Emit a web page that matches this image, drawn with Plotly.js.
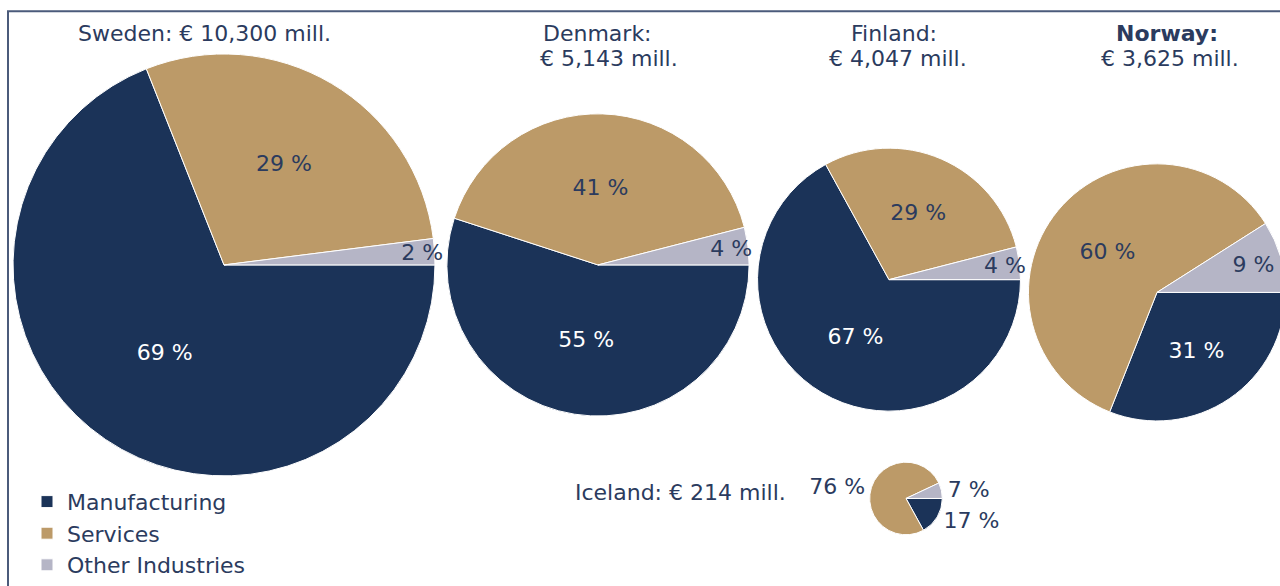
<!DOCTYPE html>
<html>
<head>
<meta charset="utf-8">
<script src="https://cdn.plot.ly/plotly-3.0.1.min.js"></script>
<style>
html,body{margin:0;padding:0;overflow:hidden;background:#fff;}
#chart{width:1290px;height:586px;}
</style>
</head>
<body>
<div id="chart"></div>
<script>
// ---- data ----
const sectors = ["Manufacturing", "Services", "Other Industries"];
const countries = ["Sweden", "Denmark", "Finland", "Norway", "Iceland"];
const totalsMill = [10300, 5143, 4047, 3625, 214];
const swedenShares  = [69, 29, 2];
const denmarkShares = [55, 41, 4];
const finlandShares = [67, 29, 4];
const norwayShares  = [31, 60, 9];
const icelandShares = [17, 76, 7];

// ---- styling / layout ----
const W = 1290, H = 586;
const sectorColors = ["#1b3358", "#bc9a68", "#b5b5c6"];
const txtDark = "#2b3b5e";
const FONT = "DejaVu Sans, Verdana, sans-serif";
const FS = 22;

// pie placement in pixels: [cx, cy, r]
const geom = [[224, 270, 215], [598, 270, 154], [889, 285, 134], [1157, 298, 131], [906, 508, 37]];
const sharesList = [swedenShares, denmarkShares, finlandShares, norwayShares, icelandShares];

function dom(g) {
  const [cx, cy, r] = g;
  return { x: [(cx - r) / W, (cx + r) / W], y: [1 - (cy + r) / H, 1 - (cy - r) / H] };
}

const traces = sharesList.map((vals, i) => {
  const small = i === 4;
  return {
    type: "pie",
    name: countries[i],
    labels: sectors,
    values: vals,
    sort: false,
    direction: "clockwise",
    rotation: 90,
    domain: dom(geom[i]),
    marker: { colors: sectorColors, line: { color: "#ffffff", width: 1 } },
    texttemplate: "%{value} %",
    textinfo: "text",
    textposition: small ? "outside" : "inside",
    insidetextorientation: "horizontal",
    insidetextfont: { family: FONT, size: FS, color: ["#ffffff", txtDark, txtDark] },
    outsidetextfont: { family: FONT, size: FS, color: txtDark },
    hoverinfo: "label+percent",
    showlegend: i === 0
  };
});

function fmt(v) { return "€ " + v.toLocaleString("en-US") + " mill."; }

const annotations = [
  { x: 204 / W, y: 1 - 34 / H, text: countries[0] + ": " + fmt(totalsMill[0]) },
  { x: 597 / W, y: 1 - 34 / H, text: countries[1] + ":" },
  { x: 609 / W, y: 1 - 60 / H, text: fmt(totalsMill[1]) },
  { x: 894 / W, y: 1 - 34 / H, text: countries[2] + ":" },
  { x: 898 / W, y: 1 - 60 / H, text: fmt(totalsMill[2]) },
  { x: 1167 / W, y: 1 - 34 / H, text: "<b>" + countries[3] + ":</b>" },
  { x: 1170 / W, y: 1 - 60 / H, text: fmt(totalsMill[3]) },
  { x: 788 / W, y: 1 - 502 / H, text: countries[4] + ": " + fmt(totalsMill[4]), xanchor: "right" }
].map(a => Object.assign({
  xref: "paper", yref: "paper", xanchor: "center", yanchor: "middle",
  showarrow: false, font: { family: FONT, size: FS, color: txtDark }
}, a));

const layout = {
  width: W, height: H,
  margin: { l: 0, r: 0, t: 0, b: 0 },
  paper_bgcolor: "#ffffff",
  showlegend: true,
  uniformtext: { mode: "show", minsize: FS },
  legend: {
    x: 27 / W, y: 1 - 490 / H, xanchor: "left", yanchor: "top",
    font: { family: FONT, size: FS, color: txtDark },
    tracegroupgap: 0, itemclick: false
  },
  annotations: annotations,
  shapes: [{
    type: "rect", xref: "paper", yref: "paper",
    x0: 8 / W, x1: 1.5, y0: -0.5, y1: 1 - 11.5 / H,
    line: { color: "#4b5b7b", width: 2 }, fillcolor: "rgba(0,0,0,0)", layer: "below"
  }]
};

Plotly.newPlot("chart", traces, layout, { staticPlot: true, displayModeBar: false });
</script>
</body>
</html>
